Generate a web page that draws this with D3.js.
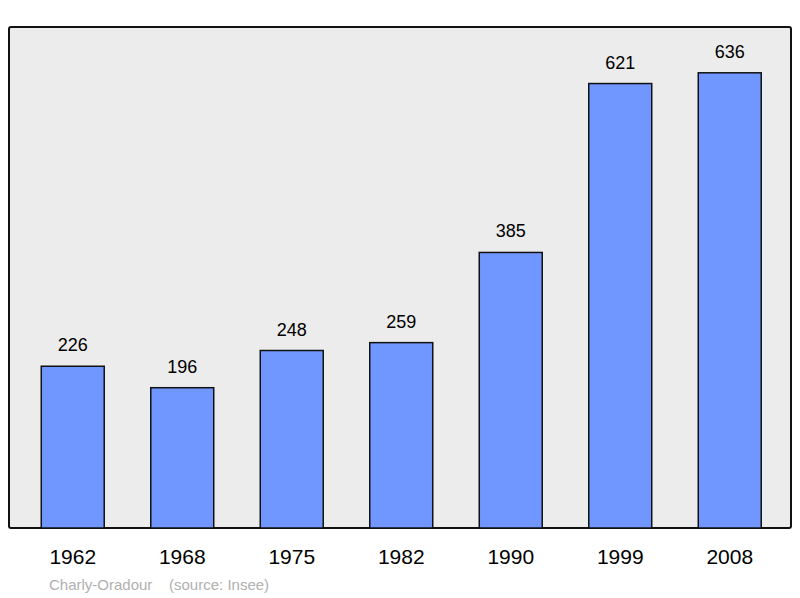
<!DOCTYPE html>
<html><head><meta charset="utf-8">
<script src="https://cdn.jsdelivr.net/npm/d3@7"></script>
<style>body{margin:0;background:#fff}</style>
</head><body>
<svg id="c" width="800" height="598"></svg>
<script>
const years = ["1962","1968","1975","1982","1990","1999","2008"];
const population = [226,196,248,259,385,621,636];
const sourceText = "Charly-Oradour    (source: Insee)";

const svg = d3.select("#c");
const x = d3.scaleBand().domain(years).range([18, 784.5]).paddingInner(0.425).paddingOuter(0.2125);
const y = d3.scaleLinear().domain([0,700]).range([528,27]);

svg.append("rect").attr("x",9).attr("y",27).attr("width",782).attr("height",501)
  .attr("rx",2).attr("fill","#ececec").attr("stroke","#111").attr("stroke-width",2);

svg.selectAll("rect.bar").data(population).enter().append("rect").attr("class","bar")
  .attr("x",(d,i)=>x(years[i])).attr("width",x.bandwidth())
  .attr("y",d=>y(d)).attr("height",d=>y(0)-y(d))
  .attr("fill","#7097ff").attr("stroke","#111").attr("stroke-width",1.5);

svg.selectAll("text.val").data(population).enter().append("text")
  .attr("x",(d,i)=>x(years[i])+x.bandwidth()/2).attr("y",d=>y(d)-15)
  .attr("text-anchor","middle").attr("font-family","Liberation Sans, Arial, sans-serif")
  .attr("font-size",18).text(d=>d);

svg.selectAll("text.yr").data(years).enter().append("text")
  .attr("x",d=>x(d)+x.bandwidth()/2).attr("y",564)
  .attr("text-anchor","middle").attr("font-family","Liberation Sans, Arial, sans-serif")
  .attr("font-size",21).text(d=>d);

svg.append("text").attr("x",49).attr("y",590).attr("font-family","Liberation Sans, Arial, sans-serif")
  .attr("font-size",15).attr("fill","#b0b0b0").attr("xml:space","preserve").style("white-space","pre").text(sourceText);
</script>
</body></html>
